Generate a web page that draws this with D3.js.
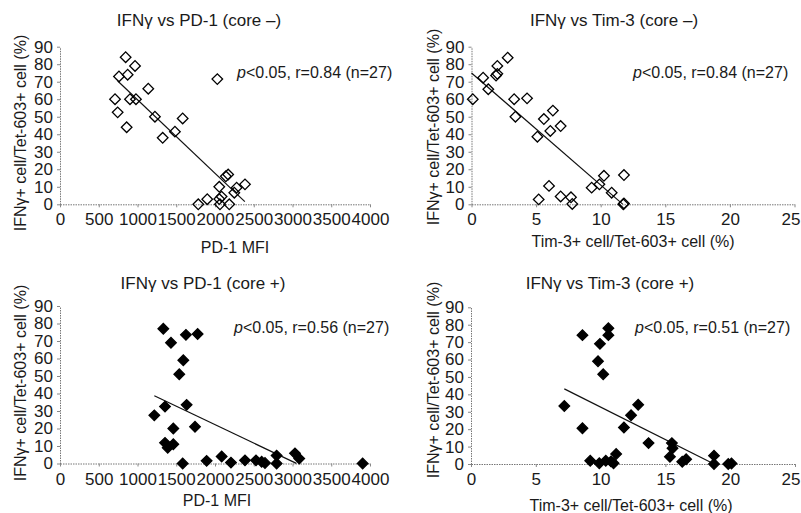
<!DOCTYPE html>
<html>
<head>
<meta charset="utf-8">
<script src="https://cdn.jsdelivr.net/npm/d3@7"></script>
<style>
  body { margin: 0; background: #fff; }
  svg text { font-family: "Liberation Sans", Arial, sans-serif; fill: #1a1a1a; }
</style>
</head>
<body>
<div id="chart"></div>
<script>

// IFNg vs PD-1, core negative: [PD-1 MFI, IFNg+ %]
var pd1CoreNeg = [
  [847, 84], [968, 79], [761, 73], [873, 74], [2030, 71.5], [1139, 66], [710, 60],
  [903, 60], [980, 60], [744, 52.5], [1225, 50], [1583, 49], [860, 44], [1483, 41.5],
  [1325, 38], [2140, 16], [2170, 17], [2387, 11.4], [2055, 10], [2279, 9.5], [2249, 6.6],
  [1900, 2.9], [1784, 0], [2055, 3], [2085, 4.4], [2064, 0], [2184, 0]
];

// IFNg vs Tim-3, core negative: [Tim-3+ %, IFNg+ %]
var tim3CoreNeg = [
  [0.1, 60], [0.9, 72.3], [1.3, 65.7], [1.9, 73.5], [2.0, 74.5], [2.0, 79], [2.8, 83.7],
  [3.3, 60], [3.4, 50], [4.3, 60.5], [5.1, 38.6], [5.6, 48.7], [6.1, 41.9], [6.3, 53.5],
  [6.9, 44.7], [6.0, 10.5], [5.2, 2.8], [6.9, 4.5], [7.7, 4], [7.8, 0.2], [9.3, 9.5],
  [9.9, 11.4], [10.25, 16.3], [10.85, 6.6], [11.8, 16.7], [11.75, 0], [11.8, 0.5]
];

// IFNg vs PD-1, core positive
var pd1CorePos = [
  [1333, 77], [1432, 69], [1625, 73.5], [1776, 74], [1591, 59], [1539, 51], [1634, 33.5],
  [1355, 32.5], [1217, 27.5], [1742, 21], [1462, 20], [1355, 11.8], [1462, 11], [1390, 9],
  [1583, 0], [1892, 1.5], [2086, 4], [2206, 0.5], [2387, 1.8], [2529, 1.8], [2602, 1],
  [2645, 0.3], [2795, 4.5], [2795, 0], [3032, 5.8], [3087, 2.8], [3905, 0]
];

// IFNg vs Tim-3, core positive
var tim3CorePos = [
  [8.6, 74], [10.6, 78], [10.6, 74], [9.95, 69], [9.8, 59], [10.2, 51.5], [7.2, 33.3],
  [12.9, 34], [12.35, 28], [8.6, 20.5], [11.8, 21], [13.7, 12], [11.2, 5.7], [15.5, 12],
  [15.55, 9], [15.35, 4.2], [16.3, 1.3], [16.6, 2.7], [18.75, 4.8], [18.75, 0], [19.85, 0],
  [20.1, 0.3], [9.2, 1.9], [9.9, 0.4], [10.4, 1.9], [10.8, 1.5], [11.0, 0.4]
];

// regression lines as drawn: [slope, intercept, xStart, xEnd]
var fitLines = [
  [-0.042, 101.7, 745, 2385],
  [-6.4, 75, 0, 11.7],
  [-0.02106, 64.3, 1217, 3050],
  [-3.73, 70, 7.2, 18.6]
];

var titles = ['IFN\u03b3 vs PD-1 (core \u2013)', 'IFN\u03b3 vs Tim-3 (core \u2013)',
              'IFN\u03b3 vs PD-1 (core +)', 'IFN\u03b3 vs Tim-3 (core +)'];
var rValues = ['0.84', '0.84', '0.56', '0.51'];
var nValue = 27;
var xLabels = ['PD-1 MFI', 'Tim-3+ cell/Tet-603+ cell (%)', 'PD-1 MFI', 'Tim-3+ cell/Tet-603+ cell (%)'];
var yLabel = 'IFN\u03b3+ cell/Tet-603+ cell (%)';
var pd1Ticks = [0, 500, 1000, 1500, 2000, 2500, 3000, 3500, 4000];
var tim3Ticks = [0, 5, 10, 15, 20, 25];
var yTicks = [0, 10, 20, 30, 40, 50, 60, 70, 80, 90];

var svg = d3.select('#chart').append('svg')
  .attr('width', 801)
  .attr('height', 513);

// layout of the four panels (pixel positions only)
var panels = [
  { data: pd1CoreNeg, filled: false, ticks: pd1Ticks, xr: [60, 370], yr: [204.3, 46.7],
    title: [199, 20], stat: [237, 72], xlab: [235, 247], ylab: [20, 133] },
  { data: tim3CoreNeg, filled: false, ticks: tim3Ticks, xr: [471.5, 794.5], yr: [204.3, 46.7],
    title: [614, 20], stat: [633, 72], xlab: [633, 241], ylab: [433, 127] },
  { data: pd1CorePos, filled: true, ticks: pd1Ticks, xr: [60, 370], yr: [463.5, 306],
    title: [203, 283], stat: [234, 327], xlab: [217, 500], ylab: [20, 383] },
  { data: tim3CorePos, filled: true, ticks: tim3Ticks, xr: [471, 795], yr: [464, 307.3],
    title: [610, 283], stat: [635, 327], xlab: [631, 505], ylab: [433, 380] }
];

var diamond = d3.symbol().type(d3.symbolSquare).size(56);

panels.forEach(function(p, i) {
  var g = svg.append('g');

  var x = d3.scaleLinear()
    .domain([p.ticks[0], p.ticks[p.ticks.length - 1]])
    .range(p.xr);
  var y = d3.scaleLinear().domain([0, 90]).range(p.yr);

  // axes
  var xAxis = g.append('g')
    .attr('transform', `translate(0, ${y(0)})`)
    .call(d3.axisBottom(x).tickValues(p.ticks).tickFormat(d3.format('d'))
      .tickSize(3).tickSizeOuter(0).tickPadding(6));
  var yAxis = g.append('g')
    .attr('transform', `translate(${x.range()[0]}, 0)`)
    .call(d3.axisLeft(y).tickValues(yTicks).tickFormat(d3.format('d'))
      .tickSize(3).tickSizeOuter(0).tickPadding(4));

  [xAxis, yAxis].forEach(function(ax) {
    ax.select('.domain').attr('stroke', '#777').attr('stroke-dasharray', '1.5,1');
    ax.selectAll('.tick line').attr('stroke', '#888');
    ax.selectAll('.tick text')
      .attr('font-size', 17)
      .attr('fill', '#1a1a1a')
      .style('font-family', '"Liberation Sans", Arial, sans-serif');
  });

  // keep the last tick label inside the page edge
  xAxis.selectAll('.tick text')
    .filter(function() {
      var box = this.getBBox();
      var tx = x(d3.select(this.parentNode).datum());
      return tx + box.width / 2 > 800;
    })
    .attr('text-anchor', 'end')
    .attr('x', function() { return 800 - x(d3.select(this.parentNode).datum()); });

  // regression line
  var f = fitLines[i];
  g.append('line')
    .attr('x1', x(f[2])).attr('y1', y(f[0] * f[2] + f[1]))
    .attr('x2', x(f[3])).attr('y2', y(f[0] * f[3] + f[1]))
    .attr('stroke', '#111')
    .attr('stroke-width', 1.2);

  // points
  g.selectAll('.pt')
    .data(p.data)
    .enter()
    .append('path')
    .classed('pt', true)
    .attr('d', diamond)
    .attr('transform', d => `translate(${x(d[0])}, ${y(d[1])}) rotate(45)`)
    .attr('fill', p.filled ? '#000' : '#fff')
    .attr('fill-opacity', p.filled ? 1 : 0)
    .attr('stroke', '#000')
    .attr('stroke-width', 1.3);

  // texts
  g.append('text')
    .attr('x', p.title[0]).attr('y', p.title[1])
    .attr('text-anchor', 'middle')
    .attr('dominant-baseline', 'central')
    .attr('font-size', 17)
    .text(titles[i]);

  var stat = g.append('text')
    .attr('x', p.stat[0]).attr('y', p.stat[1])
    .attr('dominant-baseline', 'central')
    .attr('font-size', 16);
  stat.append('tspan').attr('font-style', 'italic').text('p');
  stat.append('tspan').text(`<0.05, r=${rValues[i]} (n=${nValue})`);

  g.append('text')
    .attr('x', p.xlab[0]).attr('y', p.xlab[1])
    .attr('text-anchor', 'middle')
    .attr('dominant-baseline', 'central')
    .attr('font-size', 16)
    .text(xLabels[i]);

  g.append('text')
    .attr('transform', `translate(${p.ylab[0]}, ${p.ylab[1]}) rotate(-90)`)
    .attr('text-anchor', 'middle')
    .attr('dominant-baseline', 'central')
    .attr('font-size', 16)
    .text(yLabel);
});

</script>
</body>
</html>
